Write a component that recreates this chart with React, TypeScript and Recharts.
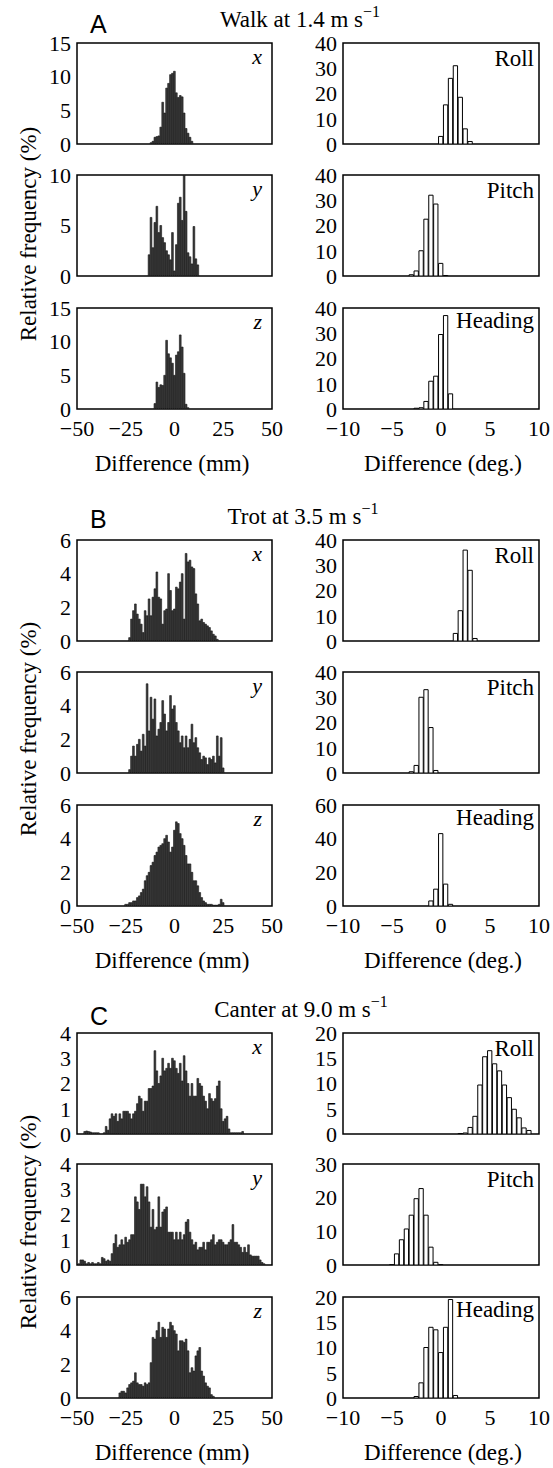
import React from 'react';
import { BarChart, Bar, XAxis, YAxis, ReferenceArea } from 'recharts';

const SERIF = '"Liberation Serif", "Times New Roman", serif';
const SANS = '"Liberation Sans", Arial, sans-serif';

// ---------- data (bin centre start, bin width, relative frequency %) ----------
const MM_BIN = 1;
const DEG_BIN = 0.5;

const A_X_START = -12;
const A_X = [0.2, 0.4, 1.0, 1.1, 1.2, 2.5, 6.2, 4.6, 8.3, 9.0, 10.3, 10.5, 10.8, 7.6, 6.9, 7.2, 7.0, 4.6, 2.3, 1.6, 1.0, 0.4];
const A_Y_START = -13;
const A_Y = [2.1, 5.8, 2.8, 5.3, 6.9, 4.3, 5.0, 3.8, 3.3, 2.5, 2.1, 1.6, 4.3, 0.5, 3.1, 7.2, 7.8, 5.5, 10.0, 6.4, 2.3, 1.9, 1.2, 4.9, 1.7, 1.1];
const A_Z_START = -10;
const A_Z = [0.8, 4.0, 3.2, 3.6, 3.5, 5.0, 10.2, 8.2, 7.6, 6.8, 5.0, 8.0, 8.5, 11.0, 9.2, 5.3, 0.7, 0.2];
const A_ROLL_START = 0;
const A_ROLL = [3, 15.5, 26, 31, 18.5, 6, 1];
const A_PITCH_START = -3;
const A_PITCH = [0.5, 2, 10, 22.5, 32, 28.5, 5, 0.2];
const A_HEADING_START = -2.5;
const A_HEADING = [0.3, 0.5, 3, 11, 13, 29.5, 37, 6];

const B_X_START = -23;
const B_X = [0.2, 1.3, 1.8, 2.2, 1.6, 1.3, 1.0, 0.5, 1.8, 1.5, 2.5, 1.5, 2.6, 3.1, 4.1, 2.6, 2.5, 1.0, 1.8, 1.9, 4.0, 3.0, 1.8, 1.9, 3.2, 3.1, 3.5, 4.0, 1.3, 5.2, 4.7, 4.8, 4.4, 4.3, 2.8, 2.2, 1.2, 1.3, 1.1, 1.0, 0.9, 0.8, 0.6, 0.4, 0.3, 0.1];
const B_Y_START = -23;
const B_Y = [0.2, 1.0, 1.6, 1.0, 1.7, 2.0, 1.3, 2.3, 1.6, 5.3, 2.5, 4.5, 3.2, 4.4, 2.2, 2.6, 3.0, 4.3, 3.5, 2.5, 3.0, 4.6, 3.8, 4.0, 3.0, 2.5, 1.8, 2.2, 1.5, 2.2, 1.5, 2.0, 2.9, 1.8, 2.1, 1.5, 1.2, 0.8, 1.0, 0.9, 0.5, 0.9, 0.8, 1.0, 0.6, 2.2, 1.0, 2.1, 0.3];
const B_Z_START = -25;
const B_Z = [0.1, 0.1, 0.2, 0.2, 0.3, 0.3, 0.5, 0.6, 0.8, 1.0, 1.5, 1.8, 2.0, 2.4, 2.6, 3.0, 3.2, 3.5, 3.6, 3.7, 4.0, 4.2, 3.8, 3.2, 3.5, 4.5, 5.0, 4.9, 4.3, 4.0, 3.6, 3.0, 2.5, 2.5, 2.0, 1.5, 1.5, 1.2, 0.8, 0.5, 0.3, 0.2, 0.1, 0.1, 0.1, 0.05, 0.05, 0.05, 0.1, 0.4, 0.2];
const B_ROLL_START = 1.5;
const B_ROLL = [3, 12, 36, 28, 1];
const B_PITCH_START = -3;
const B_PITCH = [0.5, 3, 30, 33, 18, 1];
const B_HEADING_START = -1;
const B_HEADING = [3, 10, 43, 13, 1];

const C_X_START = -46;
const C_X = [0.1, 0.12, 0.1, 0.08, 0.05, 0.05, 0.05, 0.05, 0, 0, 0.05,
  0.3, 0.15, 0.6, 0.8, 0.7, 0.8, 0.5, 0.8, 0.6, 0.9, 0.9, 0.9, 0.8, 0.6, 0.8, 0.9, 1.2, 1.5, 1.4, 0.9, 1.3, 1.3, 1.8, 1.8, 1.9,
  3.3, 2.5, 2.0, 2.3, 3.0, 2.5, 2.6, 2.8, 2.6, 3.0, 2.9, 2.6, 2.4, 2.8, 2.1, 3.1, 2.5, 2.0, 1.5, 2.0, 1.5, 1.5, 2.2, 2.0, 1.9,
  1.5, 1.3, 1.0, 1.6, 1.4, 1.3, 1.4, 1.9, 2.1, 1.0, 0.5, 0.6, 0.7, 0.2, 0.05, 0.05, 0.05, 0.05, 0.05, 0.05, 0.1];
const C_Y_START = -49;
const C_Y = [0.05, 0.2, 0.2, 0.15, 0.05, 0.1, 0.05, 0.1, 0.05, 0.05, 0.1, 0.05, 0.3, 0.25, 0.15, 0.2, 0.15, 0.45, 0.85, 1.2,
  0.7, 0.8, 1.0, 0.8, 1.1, 0.9, 1.0, 1.2, 1.2, 2.7, 2.5, 2.2, 3.2, 3.2, 2.7, 3.1, 2.5, 1.5, 2.2, 1.4, 1.5, 2.7, 1.5, 2.1, 2.2,
  2.3, 1.3, 1.3, 1.3, 1.0, 1.3, 1.0, 1.3, 1.0, 1.2, 1.7, 1.8, 1.3, 1.0, 0.8, 0.9, 0.6, 0.7, 0.7, 0.9, 0.6, 0.9, 0.9, 1.0, 1.2,
  0.8, 0.9, 1.0, 1.0, 0.9, 0.8, 0.8, 0.9, 1.0, 1.6, 0.9, 0.9, 0.8, 0.7, 0.5, 0.7, 0.5, 0.8, 0.4, 0.35, 0.35, 0.35, 0.35, 0.2, 0.1, 0.05];
const C_Z_START = -28;
const C_Z = [0.3, 0.4, 0.4, 0.3, 0.6, 0.8, 0.9, 1.0, 1.5, 0.9, 0.8, 0.8, 0.7, 0.9, 0.8, 0.9, 2.1, 3.6, 3.5, 4.0, 4.5, 3.6, 4.2,
  4.1, 3.6, 4.1, 4.5, 4.3, 4.0, 3.8, 2.8, 3.4, 3.4, 3.3, 3.5, 2.8, 1.5, 1.8, 1.6, 2.5, 2.8, 3.0, 1.6, 1.3, 0.9, 0.7, 0.6, 0.2, 0.1];
const C_ROLL_START = 2;
const C_ROLL = [0.1, 0.2, 1.3, 3.5, 9.7, 15.3, 16.5, 13.9, 12.5, 9.7, 7.2, 4.9, 3.2, 1.2, 0.7];
const C_PITCH_START = -5;
const C_PITCH = [0.1, 3.3, 7.5, 10.7, 14.8, 19.7, 22.7, 14.8, 5.3, 0.8, 0.1];
const C_HEADING_START = -2.5;
const C_HEADING = [0.3, 3, 10, 14, 13.5, 9, 14, 19.5, 0.5];

// ---------- axis ticks ----------
const MM_TICKS = [-50, -25, 0, 25, 50];
const DEG_TICKS = [-10, -5, 0, 5, 10];
const T15 = [0, 5, 10, 15];
const T10 = [0, 5, 10];
const T40 = [0, 10, 20, 30, 40];
const T6 = [0, 2, 4, 6];
const T60 = [0, 20, 40, 60];
const T4 = [0, 1, 2, 3, 4];
const T20 = [0, 5, 10, 15, 20];
const T30 = [0, 10, 20, 30];

const TITLES = ['Walk at 1.4 m s', 'Trot at 3.5 m s', 'Canter at 9.0 m s'];
const LETTERS = ['A', 'B', 'C'];

// ---------- layout ----------
const LEFT_BOX = 77;
const RIGHT_BOX = 343;
const LEFT_W = 195;
const RIGHT_W = 196;
const BOX_H = 101;
const SECTION_TOPS = [
  [43, 175, 308],
  [540, 672, 805],
  [1033, 1164, 1297],
];

const fmt = (v: number) => String(v).replace('-', '\u2212');
const tickStyle = { fontSize: 22, fill: '#000', fontFamily: SERIF };

type PanelProps = {
  left: number;
  top: number;
  width: number;
  start: number;
  step: number;
  values: number[];
  xDomain: [number, number];
  xTicks: number[];
  yTicks: number[];
  showX: boolean;
  dark: boolean;
};

function Panel({ left, top, width, start, step, values, xDomain, xTicks, yTicks, showX, dark }: PanelProps) {
  const data = values.map((v, i) => ({ x: start + i * step, v }));
  const yW = 45;
  const mTop = 16;
  const chartW = yW + width + 12;
  const chartH = mTop + BOX_H + 35;
  const ppu = width / (xDomain[1] - xDomain[0]);
  const barSize = dark ? step * ppu : step * ppu - 0.6;
  const yMax = yTicks[yTicks.length - 1];
  return (
    <div style={{ position: 'absolute', left: left - yW, top: top - mTop }}>
      <BarChart width={chartW} height={chartH} data={data} margin={{ top: mTop, right: 12, bottom: 0, left: 0 }}>
        <XAxis
          dataKey="x"
          type="number"
          domain={xDomain}
          ticks={xTicks}
          interval={0}
          allowDataOverflow
          tick={showX ? tickStyle : false}
          tickLine={false}
          tickSize={0}
          tickMargin={11}
          axisLine={false}
          height={35}
          tickFormatter={fmt}
        />
        <YAxis
          type="number"
          domain={[0, yMax]}
          ticks={yTicks}
          interval={0}
          allowDataOverflow
          tick={tickStyle}
          tickLine={false}
          tickSize={0}
          tickMargin={6}
          axisLine={false}
          width={yW}
        />
        <Bar
          dataKey="v"
          barSize={barSize}
          fill={dark ? '#3c3c3c' : '#fff'}
          stroke={dark ? '#111' : '#000'}
          strokeWidth={dark ? 0.6 : 1}
          isAnimationActive={false}
        />
        <ReferenceArea
          x1={xDomain[0]}
          x2={xDomain[1]}
          y1={0}
          y2={yMax}
          fill="none"
          fillOpacity={0}
          stroke="#000"
          strokeWidth={1.5}
          strokeOpacity={1}
          ifOverflow="visible"
        />
      </BarChart>
    </div>
  );
}

type Spec = { start: number; values: number[]; yTicks: number[]; label: string };

const SECTIONS: { left: Spec[]; right: Spec[] }[] = [
  {
    left: [
      { start: A_X_START, values: A_X, yTicks: T15, label: 'x' },
      { start: A_Y_START, values: A_Y, yTicks: T10, label: 'y' },
      { start: A_Z_START, values: A_Z, yTicks: T15, label: 'z' },
    ],
    right: [
      { start: A_ROLL_START, values: A_ROLL, yTicks: T40, label: 'Roll' },
      { start: A_PITCH_START, values: A_PITCH, yTicks: T40, label: 'Pitch' },
      { start: A_HEADING_START, values: A_HEADING, yTicks: T40, label: 'Heading' },
    ],
  },
  {
    left: [
      { start: B_X_START, values: B_X, yTicks: T6, label: 'x' },
      { start: B_Y_START, values: B_Y, yTicks: T6, label: 'y' },
      { start: B_Z_START, values: B_Z, yTicks: T6, label: 'z' },
    ],
    right: [
      { start: B_ROLL_START, values: B_ROLL, yTicks: T40, label: 'Roll' },
      { start: B_PITCH_START, values: B_PITCH, yTicks: T40, label: 'Pitch' },
      { start: B_HEADING_START, values: B_HEADING, yTicks: T60, label: 'Heading' },
    ],
  },
  {
    left: [
      { start: C_X_START, values: C_X, yTicks: T4, label: 'x' },
      { start: C_Y_START, values: C_Y, yTicks: T4, label: 'y' },
      { start: C_Z_START, values: C_Z, yTicks: T6, label: 'z' },
    ],
    right: [
      { start: C_ROLL_START, values: C_ROLL, yTicks: T20, label: 'Roll' },
      { start: C_PITCH_START, values: C_PITCH, yTicks: T30, label: 'Pitch' },
      { start: C_HEADING_START, values: C_HEADING, yTicks: T20, label: 'Heading' },
    ],
  },
];

const TITLE_X = [300, 303, 301];
const TITLE_Y = [27, 524, 1017];
const LETTER_Y = [33, 528, 1025];
const YLABEL_Y = [234, 729, 1222];

export default function App() {
  return (
    <div style={{ position: 'absolute', left: 0, top: 0, width: 553, height: 1468, background: '#fff' }}>
      {SECTIONS.map((sec, si) => (
        <React.Fragment key={si}>
          {sec.left.map((p, ri) => (
            <Panel
              key={'l' + ri}
              left={LEFT_BOX}
              top={SECTION_TOPS[si][ri]}
              width={LEFT_W}
              start={p.start}
              step={MM_BIN}
              values={p.values}
              xDomain={[-50, 50]}
              xTicks={MM_TICKS}
              yTicks={p.yTicks}
              showX={ri === 2}
              dark
            />
          ))}
          {sec.right.map((p, ri) => (
            <Panel
              key={'r' + ri}
              left={RIGHT_BOX}
              top={SECTION_TOPS[si][ri]}
              width={RIGHT_W}
              start={p.start}
              step={DEG_BIN}
              values={p.values}
              xDomain={[-10, 10]}
              xTicks={DEG_TICKS}
              yTicks={p.yTicks}
              showX={ri === 2}
              dark={false}
            />
          ))}
        </React.Fragment>
      ))}
      <svg width={553} height={1468} style={{ position: 'absolute', left: 0, top: 0, pointerEvents: 'none' }}>
        {SECTIONS.map((sec, si) => (
          <g key={si}>
            <text x={90} y={LETTER_Y[si]} fontFamily={SANS} fontSize={25} fill="#000">{LETTERS[si]}</text>
            <text x={TITLE_X[si]} y={TITLE_Y[si]} fontFamily={SERIF} fontSize={23} fill="#000" textAnchor="middle">
              {TITLES[si]}
              <tspan dy={-10} fontSize={16}>{'\u22121'}</tspan>
            </text>
            <text
              transform={`translate(36, ${YLABEL_Y[si]}) rotate(-90)`}
              fontFamily={SERIF}
              fontSize={23}
              fill="#000"
              textAnchor="middle"
            >
              Relative frequency (%)
            </text>
            <text x={172} y={SECTION_TOPS[si][2] + BOX_H + 62} fontFamily={SERIF} fontSize={23} fill="#000" textAnchor="middle">
              Difference (mm)
            </text>
            <text x={443} y={SECTION_TOPS[si][2] + BOX_H + 62} fontFamily={SERIF} fontSize={23} fill="#000" textAnchor="middle">
              Difference (deg.)
            </text>
            {sec.left.map((p, ri) => (
              <text key={'lx' + ri} x={LEFT_BOX + LEFT_W - 10} y={SECTION_TOPS[si][ri] + 21} fontFamily={SERIF} fontStyle="italic" fontSize={22} fill="#000" textAnchor="end">
                {p.label}
              </text>
            ))}
            {sec.right.map((p, ri) => (
              <text key={'rx' + ri} x={RIGHT_BOX + RIGHT_W - 5} y={SECTION_TOPS[si][ri] + (ri === 2 ? 20 : 23)} fontFamily={SERIF} fontSize={23} fill="#000" textAnchor="end">
                {p.label}
              </text>
            ))}
          </g>
        ))}
      </svg>
    </div>
  );
}
